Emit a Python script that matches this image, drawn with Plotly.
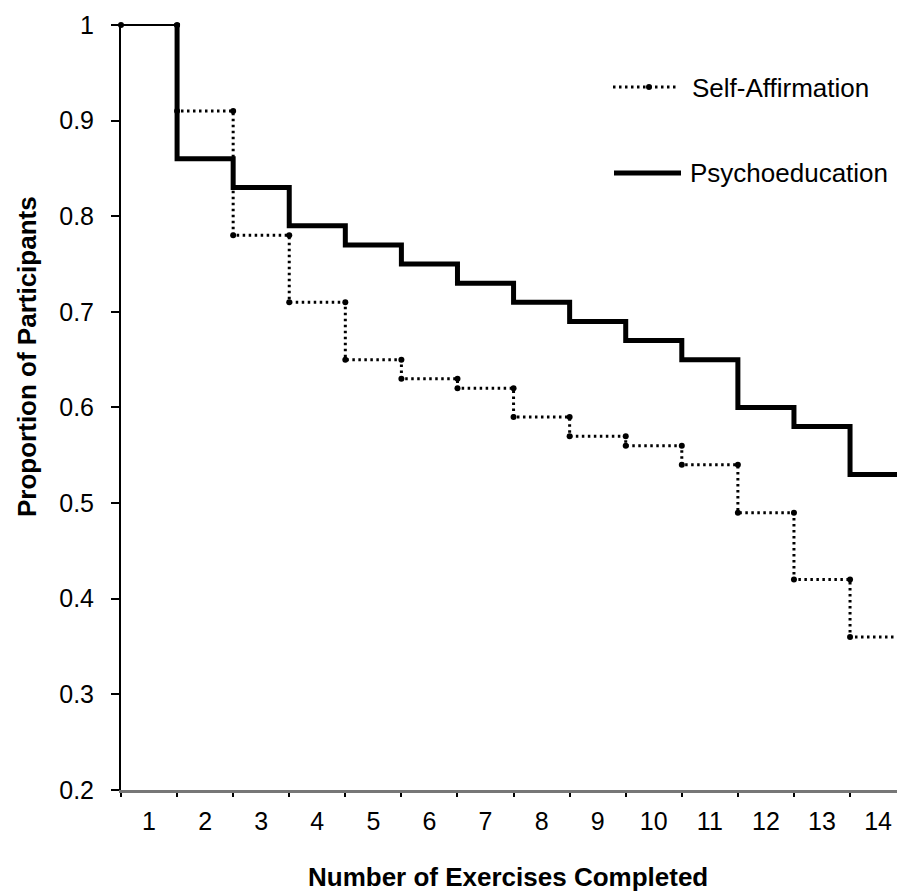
import plotly.graph_objects as go

# Exercise sessions (category axis) and proportion of participants remaining
exercises = list(range(1, 15))
self_affirmation = [1.00, 0.91, 0.78, 0.71, 0.65, 0.63, 0.62, 0.59, 0.57, 0.56, 0.54, 0.49, 0.42, 0.36]
psychoeducation = [1.00, 0.86, 0.83, 0.79, 0.77, 0.75, 0.73, 0.71, 0.69, 0.67, 0.65, 0.60, 0.58, 0.53]
y_ticks = [0.2, 0.3, 0.4, 0.5, 0.6, 0.7, 0.8, 0.9, 1.0]
y_tick_text = ["0.2", "0.3", "0.4", "0.5", "0.6", "0.7", "0.8", "0.9", "1"]

FONT = "Liberation Sans, Arial, sans-serif"

# Category boundaries: each exercise occupies [k - 0.5, k + 0.5]
bounds = [k - 0.5 for k in exercises] + [exercises[-1] + 0.5]


def steps(values, start=0):
    xs, ys = [], []
    for i in range(start, len(values)):
        xs += [bounds[i], bounds[i + 1]]
        ys += [values[i], values[i]]
    return xs, ys


fig = go.Figure()

# Shared starting segment (all participants at exercise 1)
x0, y0 = steps(self_affirmation[:1])
fig.add_trace(go.Scatter(
    x=x0, y=y0, mode="lines+markers",
    line=dict(color="black", width=2),
    marker=dict(color="black", size=6),
    cliponaxis=False, showlegend=False, hoverinfo="skip"))

# Self-Affirmation: dotted step line with markers at each corner
xs, ys = steps(self_affirmation, start=1)
xs = [bounds[1]] + xs
ys = [self_affirmation[0]] + ys
fig.add_trace(go.Scatter(
    x=xs, y=ys, mode="lines+markers", name="Self-Affirmation",
    line=dict(color="black", width=3, dash="2.5px,3.5px"),
    marker=dict(color="black", size=6),
    showlegend=False))

# Psychoeducation: thick solid step line
xp, yp = steps(psychoeducation, start=1)
xp = [bounds[1]] + xp
yp = [psychoeducation[0]] + yp
fig.add_trace(go.Scatter(
    x=xp, y=yp, mode="lines", name="Psychoeducation",
    line=dict(color="black", width=5, shape="linear"),
    showlegend=False))

# Plot area in pixels: left 121, right edge of page, top 23, bottom 790
L, R, T, B = 121, 0, 23, 104
W, H = 897, 894
pw, ph = W - L - R, H - T - B


def px(x):
    return (x - L) / pw


def py(y):
    return (H - B - y) / ph


# Legend drawn by hand
shapes = [
    dict(type="line", xref="paper", yref="paper", x0=px(613), x1=px(678), y0=py(87), y1=py(87),
         line=dict(color="black", width=3, dash="2.5px,3.5px")),
    dict(type="circle", xref="paper", yref="paper", x0=px(646), x1=px(652), y0=py(84), y1=py(90),
         fillcolor="black", line=dict(color="black", width=0)),
    dict(type="line", xref="paper", yref="paper", x0=px(614), x1=px(681), y0=py(173), y1=py(173),
         line=dict(color="black", width=5)),
]
annotations = [
    dict(text="Self-Affirmation", xref="paper", yref="paper", x=px(690), y=py(88),
         xanchor="left", yanchor="middle", showarrow=False, font=dict(family=FONT, size=26, color="black")),
    dict(text="Psychoeducation", xref="paper", yref="paper", x=px(688), y=py(173),
         xanchor="left", yanchor="middle", showarrow=False, font=dict(family=FONT, size=26, color="black")),
    dict(text="<b>Number of Exercises Completed</b>", xref="paper", yref="paper", x=px(508), y=py(877),
         xanchor="center", yanchor="middle", showarrow=False, font=dict(family=FONT, size=26, color="black")),
    dict(text="<b>Proportion of Participants</b>", xref="paper", yref="paper", x=px(27), y=py(357),
         xanchor="center", yanchor="middle", textangle=-90, showarrow=False,
         font=dict(family=FONT, size=26, color="black")),
]

fig.update_layout(
    width=W, height=H,
    margin=dict(l=L, r=R, t=T, b=B, autoexpand=False),
    paper_bgcolor="white", plot_bgcolor="white",
    font=dict(family=FONT, size=25, color="black"),
    shapes=shapes, annotations=annotations,
    showlegend=False,
)

fig.update_xaxes(
    range=[0.5, 0.5 + pw / 56.08],
    tickvals=exercises, ticktext=[str(e) for e in exercises],
    ticks="", ticklabelstandoff=7,
    tickfont=dict(family=FONT, size=25, color="black"),
    minor=dict(tickvals=bounds, ticks="outside", ticklen=4, tickwidth=2, tickcolor="black", showgrid=False),
    showline=True, linecolor="#777777", linewidth=3,
    showgrid=False, zeroline=False, automargin=False,
)
fig.update_yaxes(
    range=[0.2, 1.002],
    tickvals=y_ticks, ticktext=y_tick_text,
    ticks="outside", ticklen=8, tickwidth=2, tickcolor="black",
    ticklabelstandoff=12,
    tickfont=dict(family=FONT, size=25, color="black"),
    showline=True, linecolor="black", linewidth=2,
    showgrid=False, zeroline=False, automargin=False,
)

fig.write_html("out.html")
